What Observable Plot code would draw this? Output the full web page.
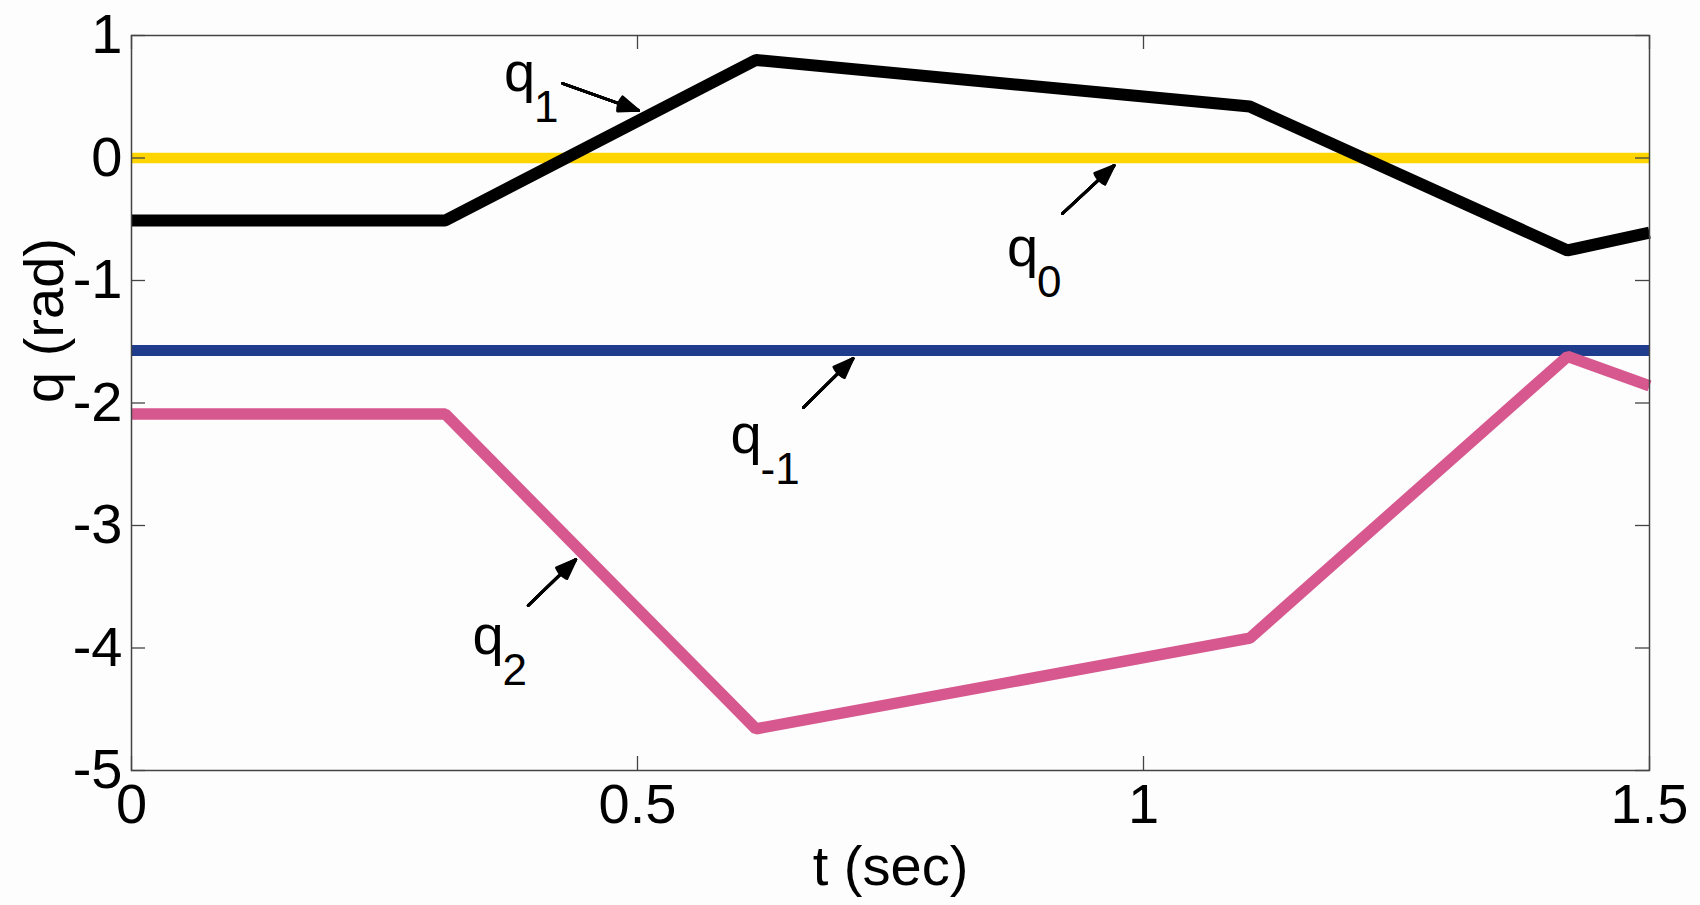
<!DOCTYPE html>
<html>
<head>
<meta charset="utf-8">
<script src="https://cdn.jsdelivr.net/npm/d3@7"></script>
<script src="https://cdn.jsdelivr.net/npm/@observablehq/plot@0.6"></script>
<style>
  html, body { margin: 0; padding: 0; background: #fdfdfd; overflow: hidden; }
  #chart svg { display: block; }
</style>
</head>
<body>
<div id="chart"></div>
<script>
// ---- data ----
const tKnots = [0, 0.31, 0.617, 1.105, 1.419, 1.5];
const q1Values = [-0.51, -0.51, 0.80, 0.42, -0.755, -0.61];
const q2Values = [-2.09, -2.09, -4.66, -3.92, -1.62, -1.86];
const q0Value = 0;
const qm1Value = -Math.PI / 2;
const tRange = [0, 1.5];

const xTicks = [0, 0.5, 1, 1.5];
const yTicks = [-5, -4, -3, -2, -1, 0, 1];
const xTickLabels = ["0", "0.5", "1", "1.5"];
const yTickLabels = ["-5", "-4", "-3", "-2", "-1", "0", "1"];

const xLabel = "t (sec)";
const yLabel = "q (rad)";

// annotation labels: "q" with a subscript, and arrows pointing at the curves
const labelNames = ["q", "q", "q", "q"];
const labelSubs = ["1", "0", "-1", "2"];
const labelT = [0.368, 0.865, 0.592, 0.337];
const labelQ = [0.551, -0.878, -2.412, -4.045];
const arrowT1 = [0.426, 0.920, 0.664, 0.392];
const arrowQ1 = [0.608, -0.453, -2.037, -3.653];
const arrowT2 = [0.501, 0.971, 0.713, 0.439];
const arrowQ2 = [0.388, -0.061, -1.637, -3.278];

// ---- tables built from the arrays ----
const q1Data = tKnots.map((t, i) => ({t, q: q1Values[i]}));
const q2Data = tKnots.map((t, i) => ({t, q: q2Values[i]}));
const q0Data = tRange.map(t => ({t, q: q0Value}));
const qm1Data = tRange.map(t => ({t, q: qm1Value}));
const labels = labelNames.map((n, i) => ({name: n, sub: labelSubs[i], t: labelT[i], q: labelQ[i]}));
const arrows = arrowT1.map((t, i) => ({t1: t, q1: arrowQ1[i], t2: arrowT2[i], q2: arrowQ2[i]}));

const W = 1700, H = 905;
const mL = 131, mR = 51, mT = 35, mB = 135;
const innerW = W - mL - mR, innerH = H - mT - mB;
const tickLen = 14;
const axisColor = "#444";
const font = "'Liberation Sans', Arial, Helvetica, sans-serif";

// filled-looking arrow heads: overlay arrows whose wings fan out at decreasing angles
// (Plot's wing length = headLength / 1.5 * strokeWidth)
const arrowSW = 2.8;
const wingLen = 21;
const arrowMarks = [42, 34, 26, 18, 10, 4].map(angle =>
  Plot.arrow(arrows, {x1: "t1", y1: "q1", x2: "t2", y2: "q2", stroke: "#000",
    strokeWidth: arrowSW, headLength: wingLen * 1.5 / arrowSW, headAngle: angle, strokeLinejoin: "miter"}));

const chart = Plot.plot({
  width: W,
  height: H,
  marginLeft: mL,
  marginRight: mR,
  marginTop: mT,
  marginBottom: mB,
  x: {domain: tRange},
  y: {domain: [-5, 1]},
  style: {fontFamily: font, fontSize: "56px", background: "#fdfdfd", color: "black"},
  marks: [
    Plot.line(q0Data, {x: "t", y: "q", stroke: "#FFD500", strokeWidth: 10.5, strokeLinecap: "butt"}),
    Plot.line(qm1Data, {x: "t", y: "q", stroke: "#1F3D8C", strokeWidth: 11, strokeLinecap: "butt"}),
    Plot.line(q1Data, {x: "t", y: "q", stroke: "#000", strokeWidth: 12, strokeLinecap: "butt", strokeLinejoin: "miter"}),
    Plot.line(q2Data, {x: "t", y: "q", stroke: "#D6588F", strokeWidth: 11.5, strokeLinecap: "butt", strokeLinejoin: "miter"}),
    ...arrowMarks,
    Plot.text(labels, {x: "t", y: "q", text: "name", textAnchor: "start", lineAnchor: "bottom", fontSize: 56, fill: "#000"}),
    Plot.text(labels, {x: "t", y: "q", text: "sub", textAnchor: "start", lineAnchor: "bottom", fontSize: 44, dx: 30, dy: 31, fill: "#000"}),
    // inward ticks on all four sides (MATLAB box style)
    Plot.tickX(xTicks, {x: d => d, insetTop: innerH - tickLen, stroke: axisColor, strokeWidth: 1.3}),
    Plot.tickX(xTicks, {x: d => d, insetBottom: innerH - tickLen, stroke: axisColor, strokeWidth: 1.3}),
    Plot.tickY(yTicks, {y: d => d, insetRight: innerW - tickLen, stroke: axisColor, strokeWidth: 1.3}),
    Plot.tickY(yTicks, {y: d => d, insetLeft: innerW - tickLen, stroke: axisColor, strokeWidth: 1.3}),
    Plot.frame({stroke: axisColor, strokeWidth: 1.5}),
    Plot.axisX(xTicks, {anchor: "bottom", tickSize: 0, tickPadding: 13, label: null,
      tickFormat: d => xTickLabels[xTicks.indexOf(d)], fontSize: 56, fill: "#000"}),
    Plot.axisY(yTicks, {anchor: "left", tickSize: 0, tickPadding: 9, label: null,
      tickFormat: d => yTickLabels[yTicks.indexOf(d)], fontSize: 56, fill: "#000"}),
    Plot.text([xLabel], {frameAnchor: "bottom", text: d => d, dy: 97, lineAnchor: "middle", fontSize: 56, fill: "#000"}),
    Plot.text([yLabel], {frameAnchor: "left", text: d => d, rotate: -90, dx: -86, lineAnchor: "middle", fontSize: 56, fill: "#000"})
  ]
});
document.getElementById("chart").appendChild(chart);
</script>
</body>
</html>
